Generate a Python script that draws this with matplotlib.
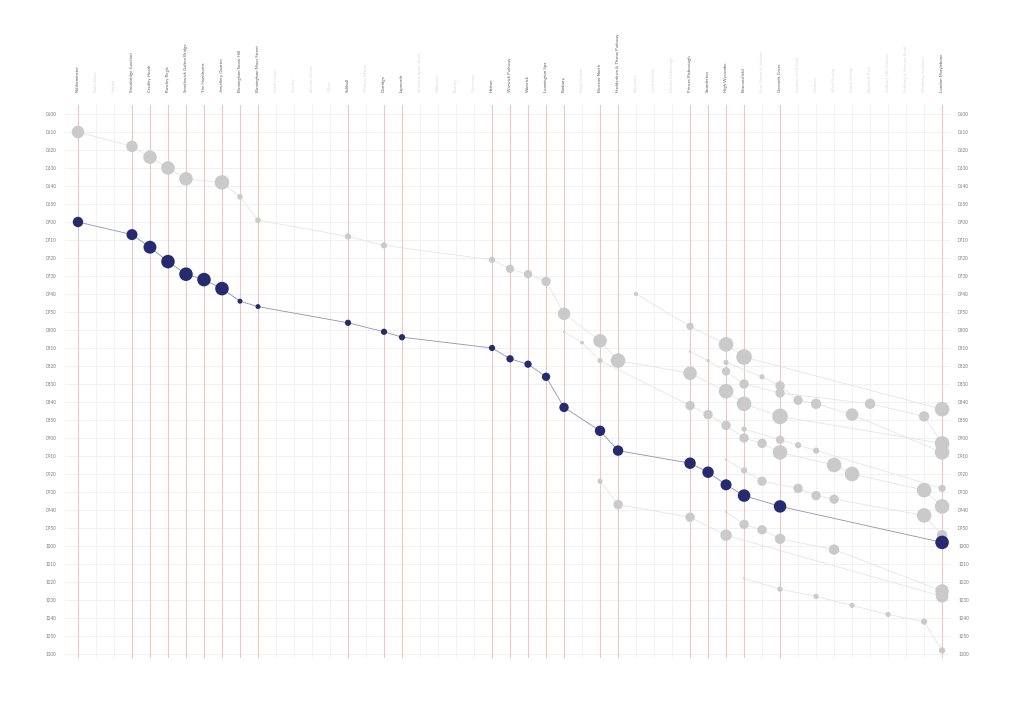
import matplotlib
matplotlib.use("Agg")
import matplotlib.pyplot as plt

plt.rcParams['font.family'] = ['Lato', 'DejaVu Sans']

stations = [
    "Kidderminster", "Blakedown", "Hagley", "Stourbridge Junction", "Cradley Heath",
    "Rowley Regis", "Smethwick Galton Bridge", "The Hawthorns", "Jewellery Quarter",
    "Birmingham Snow Hill", "Birmingham Moor Street", "Small Heath", "Tyseley",
    "Acocks Green", "Olton", "Solihull", "Widney Manor", "Dorridge", "Lapworth",
    "Stratford-upon-Avon", "Wilmcote", "Bearley", "Claverdon", "Hatton",
    "Warwick Parkway", "Warwick", "Leamington Spa", "Banbury", "Kings Sutton",
    "Bicester North", "Haddenham & Thame Parkway", "Aylesbury", "Little Kimble",
    "Monks Risborough", "Princes Risborough", "Saunderton", "High Wycombe",
    "Beaconsfield", "Seer Green & Jordans", "Gerrards Cross", "Denham Golf Club",
    "Denham", "West Ruislip", "South Ruislip", "Northolt Park", "Sudbury Hill Harrow",
    "Sudbury & Harrow Road", "Wembley Stadium", "London Marylebone",
]

# highlighted train (stops = index into stations, crowd = relative dot size)
blue_stops = [0, 3, 4, 5, 6, 7, 8, 9, 10, 15, 17, 18, 23, 24, 25, 26, 27, 29, 30, 34, 35, 36, 37, 39, 48]
blue_times = ["07:00", "07:07", "07:14", "07:22", "07:29", "07:32", "07:37", "07:44", "07:47",
              "07:56", "08:01", "08:04", "08:10", "08:16", "08:19", "08:26", "08:43", "08:56",
              "09:07", "09:14", "09:19", "09:26", "09:32", "09:38", "09:58"]
blue_crowd = [5, 5.3, 6.2, 6.5, 6.5, 6.5, 6.5, 2.4, 2.4, 3, 3, 3, 3, 3.5, 3.5, 4, 4.5, 5, 5,
              5.5, 5.5, 5.3, 6, 6, 6.5]

# other trains
a_stops = [0, 3, 4, 5, 6, 8, 9, 10, 15, 17, 23, 24, 25, 26, 27, 29, 30, 34, 36, 37, 39, 48]
a_times = ["06:10", "06:18", "06:24", "06:30", "06:36", "06:38", "06:46", "06:59", "07:08",
           "07:13", "07:21", "07:26", "07:29", "07:33", "07:51", "08:06", "08:17", "08:24",
           "08:34", "08:41", "08:48", "09:03"]
a_crowd = [6, 5.5, 6.5, 6.5, 6.5, 7, 2.7, 2.7, 3, 3, 3, 4, 4, 4.5, 6, 6.5, 7, 6.5, 7, 7, 7.5, 7]

c_stops = [31, 34, 36, 37, 48]
c_times = ["07:40", "07:58", "08:08", "08:15", "08:44"]
c_crowd = [2, 3.5, 7, 7.5, 7]

f_stops = [34, 35, 36, 37, 39, 44, 47, 48]
f_times = ["08:12", "08:17", "08:23", "08:30", "08:35", "08:41", "08:48", "09:03"]
f_crowd = [1.2, 1.5, 4, 4.5, 4.5, 5, 5, 5]

g_stops = [36, 38, 39, 40, 41, 43, 48]
g_times = ["08:18", "08:26", "08:31", "08:39", "08:41", "08:47", "09:08"]
g_crowd = [2.5, 2.5, 4.5, 4.5, 5, 6, 7]

d_stops = [27, 28, 29, 34, 35, 36, 37, 38, 39, 42, 43, 47, 48]
d_times = ["08:01", "08:07", "08:17", "08:42", "08:47", "08:53", "09:00", "09:03", "09:08",
           "09:15", "09:20", "09:29", "09:38"]
d_crowd = [1, 1.8, 2.5, 4.5, 4.5, 4.5, 4.5, 4.5, 7, 7, 7, 7, 7]

h_stops = [37, 39, 40, 41, 48]
h_times = ["08:55", "09:01", "09:04", "09:07", "09:28"]
h_crowd = [2.5, 4, 3, 3, 3.5]

i_stops = [36, 37, 38, 40, 41, 42, 47, 48]
i_times = ["09:12", "09:18", "09:24", "09:28", "09:32", "09:34", "09:43", "09:54"]
i_crowd = [1, 3, 4.5, 4.5, 4.5, 4.5, 7, 5]

e_stops = [29, 30, 34, 36, 48]
e_times = ["09:24", "09:37", "09:44", "09:54", "10:28"]
e_crowd = [2.5, 4.5, 4.5, 5.5, 6]

j_stops = [36, 37, 38, 39, 42, 48]
j_times = ["09:41", "09:48", "09:51", "09:56", "10:02", "10:25"]
j_crowd = [1, 4.5, 4.5, 5, 5, 6.5]

k_stops = [37, 39, 41, 43, 45, 47, 48]
k_times = ["10:18", "10:24", "10:28", "10:33", "10:38", "10:42", "10:58"]
k_crowd = [1, 2.5, 2.5, 2.5, 2.5, 3, 3]

gray_trains = [
    (a_stops, a_times, a_crowd), (c_stops, c_times, c_crowd), (f_stops, f_times, f_crowd),
    (g_stops, g_times, g_crowd), (d_stops, d_times, d_crowd), (h_stops, h_times, h_crowd),
    (i_stops, i_times, i_crowd), (e_stops, e_times, e_crowd), (j_stops, j_times, j_crowd),
    (k_stops, k_times, k_crowd),
]


def minutes(t):
    h, m = t.split(":")
    return (int(h) - 6) * 60 + int(m)


def area(crowd):
    return [(1.5 * c) ** 2 for c in crowd]


fig = plt.figure(figsize=(10.24, 7.09), dpi=100)
ax = fig.add_axes([65 / 1024, 1 - 657.6 / 709, 885 / 1024, 552.6 / 709])
ax.set_xlim(-0.72, 48.44)
ax.set_ylim(302, -5)

# grid
for m in range(0, 301, 10):
    ax.axhline(m, color="#efefef", lw=0.6, zorder=0)
for i, name in enumerate(stations):
    active = i in blue_stops
    ax.axvline(i, color="#efc6c8" if active else "#f0f0f0", lw=0.8 if active else 0.6, zorder=0.5)
    ax.text(i, -12.2, name, rotation=90, ha="center", va="bottom", fontsize=3.2,
            color="#5a5a5a" if active else "#d9d9d9", clip_on=False)

for stops, times, crowd in gray_trains:
    t = [minutes(x) for x in times]
    ax.plot(stops, t, color="#e0e0e0", lw=0.5, zorder=1)
    ax.scatter(stops, t, s=area(crowd), color="#cacaca", linewidths=0, zorder=2)

bt = [minutes(x) for x in blue_times]
ax.plot(blue_stops, bt, color="#9093b3", lw=0.6, zorder=3)
ax.scatter(blue_stops, bt, s=area(blue_crowd), color="#262a6e", linewidths=0, zorder=4)

ticks = list(range(0, 301, 10))
ax.set_yticks(ticks)
ax.set_yticklabels(["%02d%02d" % (6 + m // 60, m % 60) for m in ticks])
ax.tick_params(axis="y", length=0, labelsize=3.3, labelcolor="#7a7a7a",
               labelleft=True, labelright=True, pad=6)
ax.set_xticks([])
for s in ax.spines.values():
    s.set_visible(False)

fig.savefig("out.png", dpi=100)
